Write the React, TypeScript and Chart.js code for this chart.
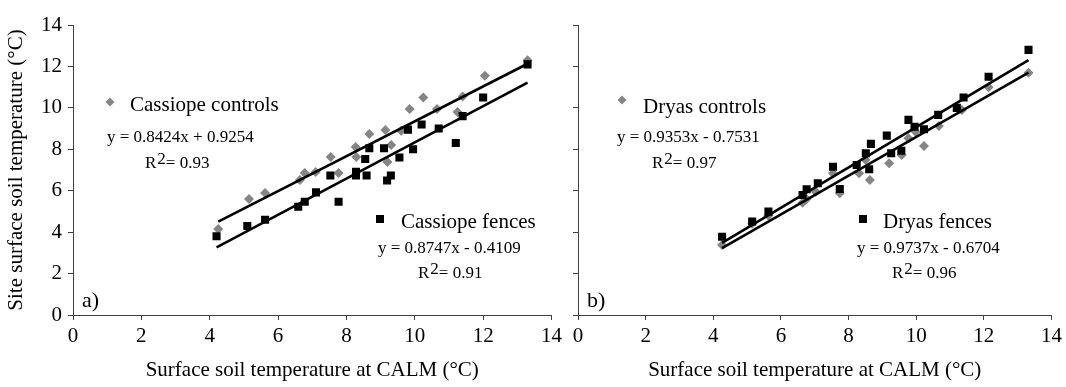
import React, { useEffect, useRef } from 'react';
import { Chart, registerables } from 'chart.js';

Chart.register(...registerables);

const FONT = "'Liberation Serif', 'Times New Roman', serif";
const GREY = '#858585';
const AXIS = '#404040';

// ---- Data ----
const tickValues = [0, 2, 4, 6, 8, 10, 12, 14];
const xTitle = 'Surface soil temperature at CALM (°C)';
const yTitle = 'Site surface soil temperature (°C)';

const cassiopeControlsX = [4.25, 5.15, 5.62, 6.64, 6.78, 7.10, 7.54, 7.77, 8.27, 8.29, 8.67, 9.14, 9.31, 9.20, 9.60, 9.85, 10.25, 10.65, 11.25, 11.40, 12.05, 13.30];
const cassiopeControlsY = [4.15, 5.60, 5.89, 6.52, 6.86, 6.90, 7.63, 6.86, 8.11, 7.63, 8.74, 8.93, 8.21, 7.39, 8.90, 9.95, 10.50, 9.95, 9.80, 10.55, 11.55, 12.30];
const cassiopeFencesX = [4.20, 5.10, 5.62, 6.59, 6.78, 7.11, 7.77, 7.53, 8.28, 8.28, 8.59, 8.55, 8.67, 9.10, 9.30, 9.19, 9.55, 9.80, 9.95, 10.20, 10.70, 11.20, 11.40, 12.00, 13.30];
const cassiopeFencesY = [3.80, 4.30, 4.60, 5.23, 5.47, 5.92, 5.47, 6.73, 6.92, 6.73, 6.73, 7.53, 8.05, 8.05, 6.73, 6.49, 7.60, 8.95, 8.00, 9.20, 9.00, 8.30, 9.60, 10.50, 12.10];
const cassiopeControlsFitX = [4.25, 13.30];
const cassiopeControlsFitY = [4.51, 12.13];
const cassiopeFencesFitX = [4.20, 13.30];
const cassiopeFencesFitY = [3.26, 11.22];

const dryasControlsX = [4.26, 5.15, 5.63, 6.64, 6.76, 7.03, 7.54, 7.74, 8.31, 8.63, 8.50, 9.20, 9.57, 9.77, 9.98, 10.23, 10.67, 11.35, 12.14, 13.32];
const dryasControlsY = [3.38, 4.40, 4.80, 5.42, 5.60, 5.95, 6.84, 5.88, 6.84, 6.52, 7.50, 7.33, 7.73, 8.53, 8.85, 8.16, 9.13, 9.90, 11.00, 11.70];
const dryasFencesX = [4.26, 5.15, 5.63, 6.64, 6.76, 7.09, 7.54, 7.74, 8.24, 8.51, 8.66, 8.61, 9.13, 9.26, 9.56, 9.77, 9.95, 10.23, 10.65, 11.20, 11.40, 12.14, 13.32];
const dryasFencesY = [3.78, 4.51, 4.99, 5.79, 6.07, 6.36, 7.16, 6.08, 7.24, 7.81, 8.26, 7.04, 8.66, 7.81, 7.93, 9.42, 9.09, 8.97, 9.66, 10.00, 10.50, 11.50, 12.80];
const dryasControlsFitX = [4.26, 13.32];
const dryasControlsFitY = [3.23, 11.70];
const dryasFencesFitX = [4.26, 13.32];
const dryasFencesFitY = [3.48, 12.30];

const cassiopeControlsLabel = 'Cassiope controls';
const cassiopeFencesLabel = 'Cassiope fences';
const cassiopeControlsEq = 'y = 0.8424x + 0.9254';
const cassiopeFencesEq = 'y = 0.8747x - 0.4109';
const cassiopeControlsR2 = '= 0.93';
const cassiopeFencesR2 = '= 0.91';
const dryasControlsLabel = 'Dryas controls';
const dryasFencesLabel = 'Dryas fences';
const dryasControlsEq = 'y = 0.9353x - 0.7531';
const dryasFencesEq = 'y = 0.9737x - 0.6704';
const dryasControlsR2 = '= 0.97';
const dryasFencesR2 = '= 0.96';

const zip = (xs: number[], ys: number[]) => xs.map((x, i) => ({ x, y: ys[i] }));

// ---- annotation plugin (legend-like labels, equations) ----
const annotPlugin = {
  id: 'annot',
  afterDraw(chart: any, _args: any, opts: any) {
    const ctx = chart.ctx as CanvasRenderingContext2D;
    ctx.save();
    for (const it of opts.items || []) {
      if (it.kind === 'diamond') {
        ctx.fillStyle = GREY;
        ctx.beginPath();
        ctx.moveTo(it.x, it.y - it.r);
        ctx.lineTo(it.x + it.r, it.y);
        ctx.lineTo(it.x, it.y + it.r);
        ctx.lineTo(it.x - it.r, it.y);
        ctx.closePath();
        ctx.fill();
      } else if (it.kind === 'square') {
        ctx.fillStyle = '#000';
        ctx.fillRect(it.x - it.r, it.y - it.r, it.r * 2, it.r * 2);
      } else if (it.kind === 'text') {
        ctx.font = `${it.size}px ${FONT}`;
        ctx.fillStyle = '#000';
        ctx.textAlign = 'left';
        ctx.textBaseline = 'alphabetic';
        ctx.fillText(it.text, it.x, it.y);
      } else if (it.kind === 'r2') {
        ctx.font = `${it.size}px ${FONT}`;
        ctx.fillStyle = '#000';
        ctx.textAlign = 'left';
        ctx.textBaseline = 'alphabetic';
        let x = it.x;
        ctx.fillText('R', x, it.y);
        x += ctx.measureText('R').width + 1;
        ctx.fillText('2', x, it.y - 4);
        x += ctx.measureText('2').width;
        ctx.fillText(it.text, x, it.y);
      }
    }
    ctx.restore();
  },
};

type PanelProps = {
  left: number;
  width: number;
  height: number;
  showY: boolean;
  controls: { x: number; y: number }[];
  fences: { x: number; y: number }[];
  controlsFit: { x: number; y: number }[];
  fencesFit: { x: number; y: number }[];
  yAxisWidth: number;
  padRight: number;
  items: any[];
};

function Panel(p: PanelProps) {
  const ref = useRef<HTMLCanvasElement>(null);
  useEffect(() => {
    if (!ref.current) return;
    const tickFont = { family: FONT, size: 21 };
    const chart = new Chart(ref.current, {
      type: 'scatter',
      data: {
        datasets: [
          {
            type: 'line',
            data: p.controlsFit,
            borderColor: '#000',
            borderWidth: 2.6,
            pointRadius: 0,
            fill: false,
            order: 0,
          },
          {
            type: 'line',
            data: p.fencesFit,
            borderColor: '#000',
            borderWidth: 2.6,
            pointRadius: 0,
            fill: false,
            order: 0,
          },
          {
            data: p.fences,
            pointStyle: 'rect',
            pointRadius: 5.7,
            backgroundColor: '#000',
            borderColor: '#000',
            borderWidth: 0,
            order: 1,
          },
          {
            data: p.controls,
            pointStyle: 'rectRot',
            pointRadius: 5,
            backgroundColor: GREY,
            borderColor: GREY,
            borderWidth: 0,
            order: 2,
          },
        ] as any,
      },
      options: {
        responsive: false,
        animation: false,
        events: [],
        layout: { padding: { top: 25, right: p.padRight, left: 0, bottom: 0 } },
        plugins: {
          legend: { display: false },
          tooltip: { enabled: false },
          annot: { items: p.items },
        } as any,
        scales: {
          x: {
            type: 'linear',
            min: 0,
            max: 14,
            afterBuildTicks: (s: any) => {
              s.ticks = tickValues.map((v) => ({ value: v }));
            },
            afterFit: (s: any) => {
              s.height = 72;
            },
            grid: { display: true, drawOnChartArea: false, drawTicks: true, tickLength: 5, color: AXIS },
            border: { display: true, color: AXIS, width: 1 },
            ticks: { font: tickFont, color: '#000', padding: 4, maxRotation: 0 },
            title: { display: true, text: xTitle, font: { family: FONT, size: 21 }, color: '#000', padding: { top: 0, bottom: 4 } },
          },
          y: {
            type: 'linear',
            min: 0,
            max: 14,
            afterBuildTicks: (s: any) => {
              s.ticks = tickValues.map((v) => ({ value: v }));
            },
            afterFit: (s: any) => {
              s.width = p.yAxisWidth;
            },
            grid: { display: true, drawOnChartArea: false, drawTicks: true, tickLength: 5, color: AXIS },
            border: { display: true, color: AXIS, width: 1 },
            ticks: { display: p.showY, font: tickFont, color: '#000', padding: 6 },
            title: { display: p.showY, text: yTitle, font: { family: FONT, size: 21 }, color: '#000', padding: { top: 4, bottom: 0 } },
          },
        },
      } as any,
      plugins: [annotPlugin as any],
    });
    return () => chart.destroy();
  }, []);
  return (
    <canvas
      ref={ref}
      width={p.width}
      height={p.height}
      style={{ position: 'absolute', left: p.left, top: 0, width: p.width, height: p.height, display: 'block' }}
    />
  );
}

export default function App() {
  const H = 387;
  const RL = 566;
  const leftItems = [
    { kind: 'diamond', x: 110, y: 102, r: 4.5 },
    { kind: 'text', text: cassiopeControlsLabel, x: 130, y: 111, size: 21 },
    { kind: 'text', text: cassiopeControlsEq, x: 107, y: 142, size: 17 },
    { kind: 'r2', text: cassiopeControlsR2, x: 145, y: 168, size: 17 },
    { kind: 'square', x: 380, y: 219, r: 4 },
    { kind: 'text', text: cassiopeFencesLabel, x: 401, y: 228, size: 21 },
    { kind: 'text', text: cassiopeFencesEq, x: 378, y: 253, size: 17 },
    { kind: 'r2', text: cassiopeFencesR2, x: 418, y: 278, size: 17 },
    { kind: 'text', text: 'a)', x: 82, y: 307, size: 22 },
  ];
  const rightItems = [
    { kind: 'diamond', x: 622 - RL, y: 100, r: 4.5 },
    { kind: 'text', text: dryasControlsLabel, x: 643 - RL, y: 113, size: 21 },
    { kind: 'text', text: dryasControlsEq, x: 617 - RL, y: 142, size: 17 },
    { kind: 'r2', text: dryasControlsR2, x: 652 - RL, y: 168, size: 17 },
    { kind: 'square', x: 863 - RL, y: 219, r: 4 },
    { kind: 'text', text: dryasFencesLabel, x: 883 - RL, y: 228, size: 21 },
    { kind: 'text', text: dryasFencesEq, x: 857 - RL, y: 253, size: 17 },
    { kind: 'r2', text: dryasFencesR2, x: 892 - RL, y: 278, size: 17 },
    { kind: 'text', text: 'b)', x: 587 - RL, y: 307, size: 22 },
  ];
  return (
    <div style={{ position: 'absolute', left: 0, top: 0, width: 1066, height: H, background: '#fff' }}>
      <Panel
        left={0}
        width={RL}
        height={H}
        showY={true}
        controls={zip(cassiopeControlsX, cassiopeControlsY)}
        fences={zip(cassiopeFencesX, cassiopeFencesY)}
        controlsFit={zip(cassiopeControlsFitX, cassiopeControlsFitY)}
        fencesFit={zip(cassiopeFencesFitX, cassiopeFencesFitY)}
        yAxisWidth={73}
        padRight={12}
        items={leftItems}
      />
      <Panel
        left={RL}
        width={1066 - RL}
        height={H}
        showY={false}
        controls={zip(dryasControlsX, dryasControlsY)}
        fences={zip(dryasFencesX, dryasFencesY)}
        controlsFit={zip(dryasControlsFitX, dryasControlsFitY)}
        fencesFit={zip(dryasFencesFitX, dryasFencesFitY)}
        yAxisWidth={12}
        padRight={13}
        items={rightItems}
      />
    </div>
  );
}
